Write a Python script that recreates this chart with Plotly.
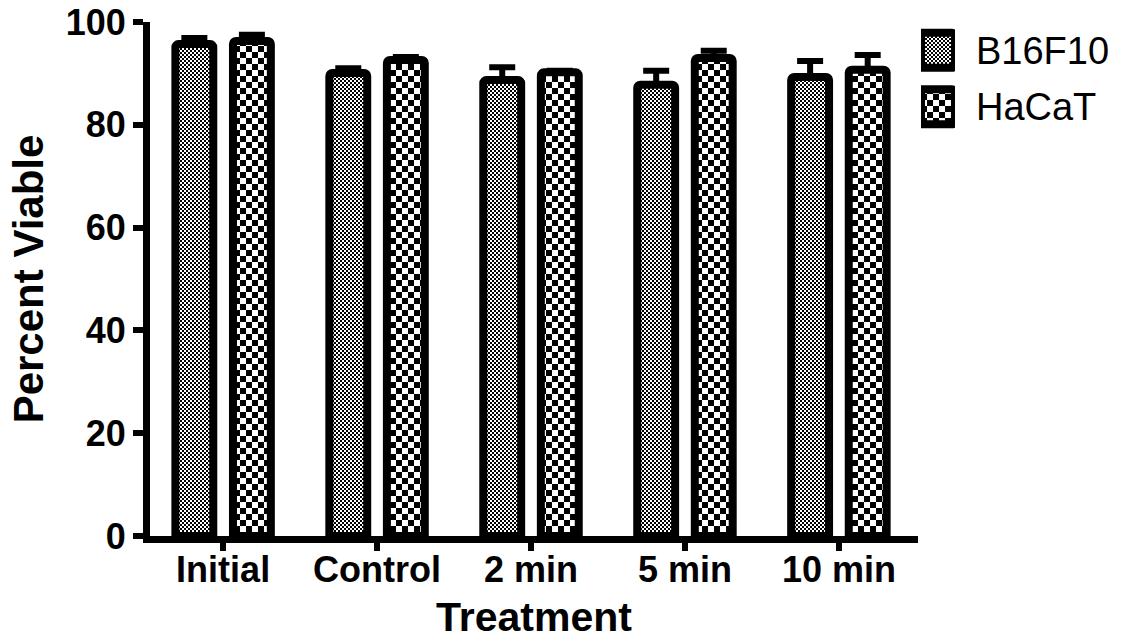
import plotly.graph_objects as go

# Cell viability after treatment, mean and SD (percent)
treatments = ["Initial", "Control", "2 min", "5 min", "10 min"]
series_names = ["B16F10", "HaCaT"]
b16f10_mean = [95.7, 90.1, 88.7, 87.8, 89.3]
b16f10_sd = [1.2, 0.9, 2.5, 2.7, 3.1]
hacat_mean = [96.3, 92.6, 90.2, 93.0, 90.7]
hacat_sd = [1.2, 0.6, 0.3, 1.4, 2.9]
y_ticks = [0, 20, 40, 60, 80, 100]

FONT = "Liberation Sans, Arial, Helvetica, sans-serif"
# pattern sizes: fine checker for B16F10, coarse checker for HaCaT
pattern_size = {"B16F10": 4, "HaCaT": 12}


def bar_marker(name):
    return dict(
        color="white",
        line=dict(color="black", width=8),
        cornerradius=3,
        pattern=dict(shape=".", size=pattern_size[name], solidity=0.5,
                     fgcolor="black", bgcolor="white", fillmode="replace"),
    )


fig = go.Figure()

for name, mean, sd in [("B16F10", b16f10_mean, b16f10_sd),
                       ("HaCaT", hacat_mean, hacat_sd)]:
    fig.add_trace(go.Bar(
        x=treatments, y=mean, name=name, showlegend=False,
        marker=bar_marker(name),
        error_y=dict(type="data", array=sd, arrayminus=[0] * len(sd),
                     symmetric=False, color="black", thickness=6, width=13),
        hoverinfo="skip",
    ))

# legend swatches drawn as bars on a small side axis, labels as its ticks
for name in series_names:
    fig.add_trace(go.Bar(
        y=[name], x=[1], orientation="h", xaxis="x2", yaxis="y2",
        width=0.62, offset=-0.31, showlegend=False, hoverinfo="skip",
        marker=bar_marker(name),
    ))

fig.update_layout(
    width=1129, height=640,
    margin=dict(l=150, r=10, t=22, b=104),
    paper_bgcolor="white", plot_bgcolor="white",
    font=dict(family=FONT, color="black"),
    barmode="group", bargap=0.252, bargroupgap=0.342,
    showlegend=False,
    xaxis=dict(
        domain=[0, 0.7926], range=[-0.475, 4.514], automargin=False,
        showline=True, linecolor="black", linewidth=7,
        ticks="outside", ticklen=8, tickwidth=6, tickcolor="black",
        ticklabelstandoff=-12,
        tickfont=dict(size=36, family=FONT, weight="bold"),
        showgrid=False, zeroline=False,
        title=dict(text="<b>Treatment</b>", font=dict(size=41), standoff=24),
    ),
    yaxis=dict(
        range=[0, 100], tickvals=y_ticks, automargin=False,
        showline=True, linecolor="black", linewidth=7,
        ticks="outside", ticklen=10, tickwidth=6, tickcolor="black",
        tickfont=dict(size=36, family=FONT, weight="bold"),
        showgrid=False, zeroline=False,
        title=dict(text="<b>Percent Viable</b>", font=dict(size=42), standoff=12),
    ),
    xaxis2=dict(domain=[0.7957, 0.8307], range=[0, 1], visible=False,
                anchor="y2"),
    yaxis2=dict(domain=[0.7800, 1.0], type="category", automargin=False,
                categoryorder="array", categoryarray=series_names,
                autorange="reversed", anchor="x2", side="right",
                showline=False, showgrid=False, zeroline=False, ticks="",
                ticklabelstandoff=20,
                tickfont=dict(size=38, family=FONT)),
)

# turn the pattern tiles into checkerboards (half-size black squares)
checker_js = """
var gd = document.getElementById('{plot_id}');
var NS = 'http://www.w3.org/2000/svg';
gd.querySelectorAll('pattern').forEach(function (p) {
  var w = parseFloat(p.getAttribute('width'));
  var c = w / 2;
  while (p.firstChild) { p.removeChild(p.firstChild); }
  var bg = document.createElementNS(NS, 'rect');
  bg.setAttribute('width', w); bg.setAttribute('height', w);
  bg.setAttribute('fill', '#ffffff');
  bg.setAttribute('shape-rendering', 'crispEdges');
  p.appendChild(bg);
  [[0, 0], [c, c]].forEach(function (o) {
    var r = document.createElementNS(NS, 'rect');
    r.setAttribute('x', o[0]); r.setAttribute('y', o[1]);
    r.setAttribute('width', c); r.setAttribute('height', c);
    r.setAttribute('fill', '#000000');
    r.setAttribute('shape-rendering', 'crispEdges');
    p.appendChild(r);
  });
  p.removeAttribute('patternTransform');
});
"""

fig.write_html("out.html", config={"displayModeBar": False},
               post_script=checker_js)
